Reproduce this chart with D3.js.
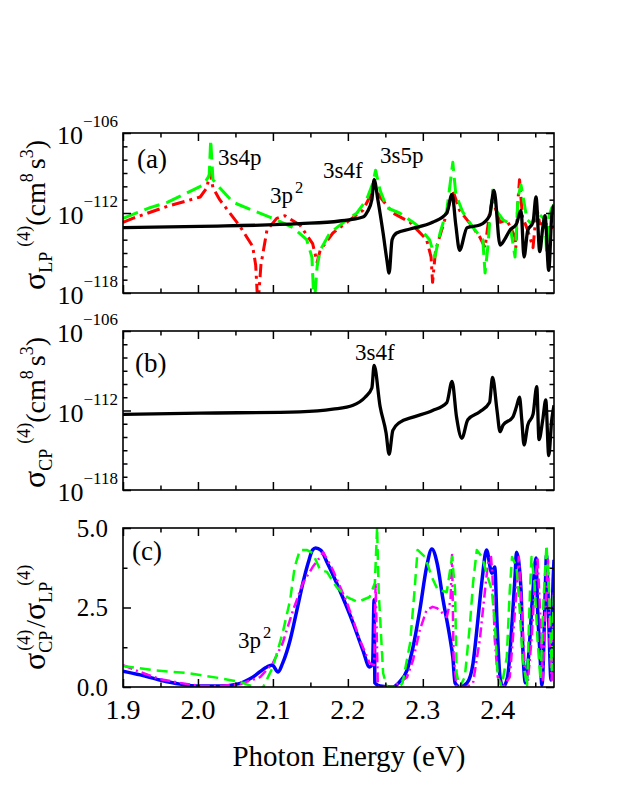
<!DOCTYPE html>
<html>
<head>
<meta charset="utf-8">
<script src="https://cdn.jsdelivr.net/npm/d3@7"></script>
<style>
  body { margin: 0; background: #fff; }
  text { font-family: "Liberation Serif", "Times New Roman", serif; fill: #000; }
</style>
</head>
<body>
<div id="chart"></div>
<script>
// ---- data (energy in eV, sigma as log10 exponent) ----
// panel (a): linear polarisation
const lpSolidE = [1.900, 2.003, 2.136, 2.189, 2.220, 2.226, 2.232, 2.235, 2.240, 2.247, 2.252, 2.255, 2.259, 2.265, 2.283, 2.313, 2.332, 2.339, 2.344, 2.349, 2.359, 2.376, 2.389, 2.395, 2.403, 2.409, 2.416, 2.425, 2.431, 2.435, 2.440, 2.447, 2.451, 2.456, 2.460, 2.463, 2.468, 2.472, 2.475];
const lpSolidV = [-113.1, -113.0, -112.8, -112.6, -112.3, -111.9, -111.0, -109.5, -111.0, -113.5, -115.5, -116.5, -114.0, -113.5, -113.2, -112.7, -112.0, -110.6, -112.9, -114.8, -113.1, -112.9, -112.2, -110.3, -114.4, -114.0, -113.3, -112.8, -111.8, -115.3, -113.3, -112.7, -110.8, -114.9, -113.1, -112.2, -116.3, -112.2, -111.4];

const lpDashDotE = [1.900, 1.913, 1.959, 2.003, 2.012, 2.016, 2.020, 2.029, 2.056, 2.073, 2.077, 2.080, 2.084, 2.092, 2.105, 2.116, 2.136, 2.153, 2.159, 2.163, 2.180, 2.203, 2.220, 2.232, 2.236, 2.243, 2.260, 2.283, 2.305, 2.311, 2.313, 2.317, 2.332, 2.340, 2.349, 2.363, 2.376, 2.383, 2.389, 2.393, 2.403, 2.412, 2.423, 2.424, 2.427, 2.429, 2.433, 2.440, 2.447, 2.452, 2.456, 2.463, 2.472, 2.475];
const lpDashDotV = [-112.7, -112.4, -111.5, -110.8, -110.1, -108.9, -110.1, -111.0, -113.0, -114.5, -115.9, -119.0, -115.9, -113.3, -112.4, -112.2, -112.9, -114.3, -115.7, -114.8, -113.5, -112.5, -111.8, -110.5, -110.1, -110.8, -112.0, -112.7, -114.0, -115.3, -117.2, -114.8, -112.0, -110.3, -111.8, -112.8, -113.8, -114.6, -112.0, -111.0, -112.7, -112.5, -113.8, -114.6, -111.0, -109.5, -112.3, -113.3, -114.6, -111.6, -112.8, -112.8, -113.1, -113.0];

const lpDashE = [1.900, 1.936, 1.959, 1.985, 2.007, 2.015, 2.017, 2.020, 2.029, 2.047, 2.073, 2.100, 2.127, 2.145, 2.152, 2.155, 2.159, 2.163, 2.176, 2.199, 2.212, 2.225, 2.233, 2.237, 2.243, 2.252, 2.269, 2.292, 2.309, 2.316, 2.323, 2.332, 2.340, 2.344, 2.353, 2.367, 2.380, 2.383, 2.387, 2.389, 2.393, 2.399, 2.407, 2.416, 2.423, 2.427, 2.431, 2.439, 2.445, 2.452, 2.459, 2.463, 2.465, 2.468, 2.472, 2.475];
const lpDashV = [-112.4, -111.6, -111.2, -110.5, -109.9, -109.2, -106.5, -109.5, -110.1, -111.2, -111.8, -112.4, -113.1, -114.0, -115.3, -119.0, -116.0, -114.8, -113.5, -112.5, -112.0, -111.0, -109.8, -108.8, -110.3, -111.6, -112.0, -112.9, -114.0, -115.3, -113.5, -111.8, -108.2, -110.6, -111.9, -113.1, -114.0, -116.5, -114.4, -112.8, -110.3, -111.9, -112.5, -112.8, -115.3, -110.8, -109.9, -112.5, -112.8, -111.9, -112.3, -112.5, -114.8, -112.3, -111.6, -111.4];

// panel (b): circular polarisation
const cpSolidE = [1.900, 2.003, 2.136, 2.180, 2.207, 2.223, 2.232, 2.235, 2.243, 2.251, 2.255, 2.260, 2.269, 2.287, 2.313, 2.332, 2.339, 2.345, 2.352, 2.360, 2.376, 2.389, 2.393, 2.399, 2.403, 2.407, 2.420, 2.425, 2.429, 2.432, 2.435, 2.440, 2.447, 2.452, 2.455, 2.460, 2.464, 2.468, 2.472, 2.475];
const cpSolidV = [-112.3, -112.2, -112.1, -111.9, -111.6, -111.0, -110.3, -108.6, -111.7, -113.7, -115.3, -113.5, -112.9, -112.5, -112.0, -111.4, -109.8, -112.5, -114.1, -112.7, -112.1, -111.4, -109.5, -112.0, -113.6, -113.1, -112.5, -111.7, -111.0, -112.7, -114.6, -113.1, -112.3, -110.2, -114.2, -112.7, -111.2, -115.4, -112.7, -111.6];

// panel (c): ratio CP / LP
const ratioSolidE = [1.900, 1.923, 1.949, 1.976, 2.003, 2.029, 2.052, 2.073, 2.092, 2.099, 2.107, 2.113, 2.123, 2.132, 2.140, 2.147, 2.153, 2.157, 2.164, 2.172, 2.189, 2.207, 2.220, 2.229, 2.233, 2.235, 2.236, 2.243, 2.260, 2.269, 2.279, 2.287, 2.296, 2.305, 2.312, 2.319, 2.327, 2.336, 2.340, 2.343, 2.349, 2.359, 2.367, 2.373, 2.379, 2.385, 2.392, 2.396, 2.399, 2.403, 2.407, 2.413, 2.419, 2.423, 2.425, 2.431, 2.433, 2.437, 2.441, 2.447, 2.451, 2.453, 2.456, 2.459, 2.463, 2.465, 2.468, 2.471, 2.473, 2.475];
const ratioSolidV = [0.50, 0.38, 0.22, 0.09, 0.03, 0.03, 0.09, 0.31, 0.63, 0.69, 0.47, 0.75, 1.48, 2.42, 3.27, 3.90, 4.31, 4.37, 4.30, 3.93, 3.05, 2.01, 1.16, 0.63, 0.75, 2.74, 0.13, 0.03, 0.00, 0.16, 0.53, 1.26, 2.42, 3.77, 4.34, 3.90, 2.74, 1.57, 0.94, 0.13, 0.00, 0.13, 0.75, 2.01, 3.36, 4.31, 3.58, 3.77, 2.01, 0.31, 0.00, 0.31, 2.01, 3.46, 4.24, 3.05, 1.48, 0.13, 0.94, 3.05, 4.06, 2.52, 1.16, 0.06, 2.74, 4.15, 2.11, 0.22, 2.74, 4.00];

const ratioDashDotE = [1.900, 1.923, 1.949, 1.976, 2.003, 2.029, 2.056, 2.083, 2.100, 2.113, 2.127, 2.140, 2.153, 2.163, 2.167, 2.180, 2.199, 2.216, 2.229, 2.235, 2.237, 2.240, 2.260, 2.279, 2.287, 2.296, 2.305, 2.313, 2.319, 2.332, 2.337, 2.339, 2.341, 2.345, 2.359, 2.367, 2.376, 2.383, 2.387, 2.391, 2.393, 2.396, 2.400, 2.407, 2.416, 2.420, 2.425, 2.428, 2.432, 2.436, 2.440, 2.445, 2.449, 2.453, 2.457, 2.460, 2.464, 2.467, 2.469, 2.472, 2.475];
const ratioDashDotV = [0.69, 0.47, 0.25, 0.13, 0.03, 0.03, 0.09, 0.31, 0.75, 1.38, 2.42, 3.27, 3.77, 4.09, 4.24, 3.68, 2.64, 1.48, 0.75, 0.69, 3.27, 0.00, 0.00, 0.31, 0.85, 1.79, 2.42, 2.52, 2.48, 2.20, 2.74, 4.15, 0.94, 0.00, 0.00, 0.13, 1.48, 3.05, 3.90, 4.09, 3.46, 1.48, 0.31, 0.00, 0.31, 1.48, 3.05, 4.09, 2.52, 0.53, 0.13, 1.48, 3.05, 4.09, 2.11, 0.22, 2.74, 4.00, 1.48, 0.22, 3.05];

const ratioDashE = [1.900, 1.940, 1.985, 2.029, 2.056, 2.073, 2.080, 2.087, 2.100, 2.113, 2.123, 2.129, 2.136, 2.145, 2.153, 2.163, 2.172, 2.185, 2.199, 2.213, 2.229, 2.236, 2.239, 2.241, 2.247, 2.252, 2.269, 2.273, 2.283, 2.289, 2.293, 2.303, 2.312, 2.320, 2.332, 2.339, 2.343, 2.345, 2.349, 2.356, 2.363, 2.367, 2.372, 2.379, 2.385, 2.392, 2.396, 2.400, 2.405, 2.412, 2.416, 2.419, 2.425, 2.429, 2.433, 2.439, 2.443, 2.445, 2.449, 2.453, 2.457, 2.461, 2.465, 2.469, 2.472, 2.475];
const ratioDashV = [0.66, 0.53, 0.44, 0.28, 0.16, 0.02, -0.10, 0.00, 0.63, 1.70, 2.74, 3.77, 4.31, 4.31, 4.21, 3.68, 3.62, 3.14, 2.83, 2.67, 2.83, 3.27, 5.03, 3.05, 0.44, 0.00, 0.00, 0.13, 1.38, 3.05, 4.31, 4.09, 3.46, 3.05, 2.99, 4.09, 3.05, 0.44, 0.00, 0.31, 2.01, 3.27, 4.31, 4.09, 3.58, 3.05, 2.01, 0.31, 0.00, 0.94, 3.05, 4.09, 3.77, 2.52, 0.94, 0.00, 3.05, 4.09, 3.27, 1.48, 0.22, 2.74, 4.47, 2.74, 0.53, 3.05];

// ---- ticks ----
const xMajorTicks = [1.9, 2.0, 2.1, 2.2, 2.3, 2.4];
const xMinorTicks = [1.95, 2.05, 2.15, 2.25, 2.35, 2.45];
const logMajorExp = [-118, -112, -106];
const logMinorExp = [-117, -116, -115, -114, -113, -111, -110, -109, -108, -107];
const ratioMajorTicks = [0, 2.5, 5.0];
const ratioMinorTicks = [1.25, 3.75];

// ---- layout ----
const width = 623, height = 806;
const left = 123, right = 554;
const panelA = { top: 133, bottom: 293 };
const panelB = { top: 331, bottom: 490 };
const panelC = { top: 528, bottom: 687 };

const svg = d3.select("#chart").append("svg")
    .attr("width", width)
    .attr("height", height);

const x = d3.scaleLinear().domain([1.9, 2.475]).range([left, right]);

// frame + inward ticks on all four sides
function drawAxes(y, p, majors, minors) {
    const g = svg.append("g");
    const axes = [
        [d3.axisBottom(x), `translate(0,${p.bottom})`, xMajorTicks, xMinorTicks],
        [d3.axisTop(x), `translate(0,${p.top})`, xMajorTicks, xMinorTicks],
        [d3.axisLeft(y), `translate(${left},0)`, majors, minors],
        [d3.axisRight(y), `translate(${right},0)`, majors, minors]
    ];
    axes.forEach(([ax, tr, maj, min]) => {
        [[maj, 8], [min, 4.5]].forEach(([vals, len]) => {
            const a = g.append("g")
                .attr("transform", tr)
                .call(ax.tickValues(vals).tickSizeInner(-len).tickSizeOuter(0).tickFormat(""));
            a.select(".domain").remove();
            a.selectAll("line").attr("stroke", "#000").attr("stroke-width", 1.5);
        });
    });
    g.append("rect")
        .attr("x", left).attr("y", p.top)
        .attr("width", right - left).attr("height", p.bottom - p.top)
        .attr("fill", "none").attr("stroke", "#000").attr("stroke-width", 1.6);
}

function clipFor(id, p) {
    svg.append("clipPath").attr("id", id)
        .append("rect")
        .attr("x", left).attr("y", p.top)
        .attr("width", right - left).attr("height", p.bottom - p.top);
    return `url(#${id})`;
}

function drawLine(Es, Vs, y, clip, style, curve, toValue) {
    const pts = d3.zip(Es, Vs);
    const line = d3.line()
        .x(d => x(d[0]))
        .y(d => y(toValue(d[1])))
        .curve(curve);
    svg.append("path")
        .datum(pts)
        .attr("clip-path", clip)
        .attr("fill", "none")
        .attr("stroke", style.color)
        .attr("stroke-width", style.width)
        .attr("stroke-dasharray", style.dash || null)
        .attr("stroke-linejoin", "round")
        .attr("d", line);
}

const pow10 = v => Math.pow(10, v);
const ident = v => v;

// log y tick labels: 10^exp
function logLabels(y) {
    logMajorExp.forEach(e => {
        const t = svg.append("text")
            .attr("x", 118)
            .attr("y", y(pow10(e)) + 11)
            .attr("text-anchor", "end");
        t.append("tspan").attr("font-size", 26).text("10");
        t.append("tspan").attr("font-size", 17).attr("dy", -17).text("\u2212" + Math.abs(e));
    });
}

// rotated y title built from pieces [text, size, dy, dx]
function yTitle(tx, ty, parts) {
    const t = svg.append("text")
        .attr("transform", `translate(${tx},${ty}) rotate(-90)`)
        .attr("text-anchor", "start");
    parts.forEach(([s, size, dy, dx]) => {
        t.append("tspan")
            .attr("font-size", size)
            .attr("dy", dy || 0)
            .attr("dx", dx || 0)
            .text(s);
    });
}

function label(tx, ty, s, size, sup) {
    const t = svg.append("text").attr("x", tx).attr("y", ty).attr("font-size", size);
    t.append("tspan").text(s);
    if (sup) t.append("tspan").attr("font-size", size * 0.72).attr("dy", -10).attr("dx", 2).text(sup);
}

// ---- panel (a) ----
const yA = d3.scaleLog().domain([1e-118, 1e-106]).range([panelA.bottom, panelA.top]);
const clipA = clipFor("clipA", panelA);
drawLine(lpDashDotE, lpDashDotV, yA, clipA, { color: "#ff0000", width: 3, dash: "13,5,3,5" }, d3.curveLinear, pow10);
drawLine(lpDashE, lpDashV, yA, clipA, { color: "#00ff00", width: 3, dash: "16,7" }, d3.curveLinear, pow10);
drawLine(lpSolidE, lpSolidV, yA, clipA, { color: "#000", width: 3.3 }, d3.curveMonotoneX, pow10);
drawAxes(yA, panelA, logMajorExp.map(pow10), logMinorExp.map(pow10));
logLabels(yA);
yTitle(45, 290, [["σ", 32], ["LP", 18, 7], ["(4)", 18, -22, 5], ["(cm", 28, 15], ["8", 18, -12], ["s", 28, 12, 4], ["3", 18, -12], [")", 28, 12]]);
label(137, 168, "(a)", 27);
label(218, 165, "3s4p", 23);
label(270, 203, "3p", 23, "2");
label(323, 178, "3s4f", 23);
label(380, 163, "3s5p", 23);

// ---- panel (b) ----
const yB = d3.scaleLog().domain([1e-118, 1e-106]).range([panelB.bottom, panelB.top]);
const clipB = clipFor("clipB", panelB);
drawLine(cpSolidE, cpSolidV, yB, clipB, { color: "#000", width: 3.3 }, d3.curveMonotoneX, pow10);
drawAxes(yB, panelB, logMajorExp.map(pow10), logMinorExp.map(pow10));
logLabels(yB);
yTitle(45, 488, [["σ", 32], ["CP", 18, 7], ["(4)", 18, -22, 5], ["(cm", 28, 15], ["8", 18, -12], ["s", 28, 12, 4], ["3", 18, -12], [")", 28, 12]]);
label(135, 372, "(b)", 27);
label(355, 360, "3s4f", 23);

// ---- panel (c) ----
const yC = d3.scaleLinear().domain([0, 5]).range([panelC.bottom, panelC.top]);
const clipC = clipFor("clipC", panelC);
drawLine(ratioSolidE, ratioSolidV, yC, clipC, { color: "#0000ff", width: 3.5 }, d3.curveMonotoneX, ident);
drawLine(ratioDashDotE, ratioDashDotV, yC, clipC, { color: "#ff00ff", width: 2.5, dash: "10,4,2,4" }, d3.curveLinear, ident);
drawLine(ratioDashE, ratioDashV, yC, clipC, { color: "#00ff00", width: 2.5, dash: "11,6" }, d3.curveLinear, ident);
drawAxes(yC, panelC, ratioMajorTicks, ratioMinorTicks);
ratioMajorTicks.forEach(v => {
    svg.append("text")
        .attr("x", 108).attr("y", yC(v))
        .attr("dy", "0.35em")
        .attr("text-anchor", "end")
        .attr("font-size", 25)
        .text(d3.format(".1f")(v));
});
yTitle(45, 670, [["σ", 32], ["CP", 18, 7], ["(4)", 18, -22, -20], ["/", 28, 15, 2], ["σ", 32], ["LP", 18, 7], ["(4)", 18, -22, -4]]);
label(132, 560, "(c)", 27);
label(238, 648, "3p", 23, "2");

// x tick labels + title
xMajorTicks.forEach(v => {
    svg.append("text")
        .attr("x", x(v)).attr("y", 719)
        .attr("text-anchor", "middle")
        .attr("font-size", 28)
        .text(d3.format(".1f")(v));
});
svg.append("text")
    .attr("x", 349).attr("y", 766)
    .attr("text-anchor", "middle")
    .attr("font-size", 29)
    .text("Photon Energy (eV)");
</script>
</body>
</html>
